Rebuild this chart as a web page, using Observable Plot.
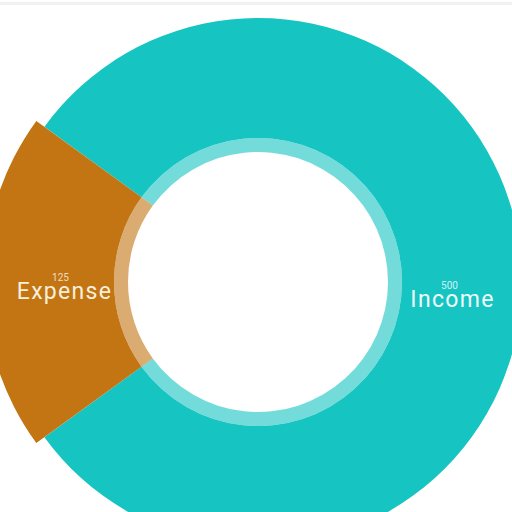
<!DOCTYPE html>
<html>
<head>
<meta charset="utf-8">
<script src="https://cdn.jsdelivr.net/npm/d3@7"></script>
<script src="https://cdn.jsdelivr.net/npm/@observablehq/plot@0.6"></script>
<style>
  html, body { margin: 0; padding: 0; background: #fff; }
  #wrap { position: relative; width: 512px; height: 512px; overflow: hidden; }
  #topline { position: absolute; left: 0; top: 2px; width: 512px; height: 3px; background: #f1f1f1; }
  svg { display: block; font-family: Roboto, sans-serif; }
  .name { letter-spacing: 1.3px; }
</style>
</head>
<body>
<div id="wrap"><div id="topline"></div></div>
<script>
const categories = ["Income", "Expense"];
const values = [500, 125];
const colors = ["#16c4c2", "#c37513"];
const outerRadii = [264, 274];

const innerR = 130;
const ringR = 144;

const pie = d3.pie().sort(null).value(d => d.value)
  .startAngle(-54 * Math.PI / 180).endAngle(306 * Math.PI / 180);
const data = categories.map((c, i) => ({category: c, value: values[i], color: colors[i], outer: outerRadii[i]}));
const arcs = pie(data);
const labelArc = d3.arc().innerRadius(194).outerRadius(194);
arcs.forEach(a => {
  const [cx, cy] = labelArc.centroid(a);
  a.lx = cx; a.ly = cy;
  a.category = a.data.category;
});

function donut(index, scales, values, dims, context) {
  const cx = scales.x(0), cy = scales.y(0);
  const g = d3.create("svg:g").attr("transform", `translate(${cx},${cy})`);
  const main = d3.arc().innerRadius(ringR).outerRadius(d => d.data.outer);
  const ring = d3.arc().innerRadius(innerR).outerRadius(ringR);
  g.selectAll("path.main").data(arcs).join("path")
    .attr("d", main).attr("fill", d => d.data.color);
  g.selectAll("path.ring").data(arcs).join("path")
    .attr("d", ring).attr("fill", d => d.data.color).attr("fill-opacity", 0.6);
  return g.node();
}

const expense = arcs.filter(a => a.category === "Expense");
const income = arcs.filter(a => a.category === "Income");

const plot = Plot.plot({
  width: 512,
  height: 512,
  margin: 0,
  x: {domain: [-258, 254], range: [0, 512], axis: null},
  y: {domain: [-282, 230], range: [0, 512], axis: null},
  style: {background: "transparent", fontFamily: "Roboto, sans-serif"},
  marks: [
    donut,
    Plot.text(expense, {x: "lx", y: "ly", text: d => String(d.value), fontSize: 10, fill: "#f1dcc0", dy: -5, dx: -4}),
    Plot.text(expense, {x: "lx", y: "ly", text: "category", fontSize: 23, fill: "#f8f0dc", dy: 9, className: "name"}),
    Plot.text(income, {x: "lx", y: "ly", text: d => String(d.value), fontSize: 10, fill: "#d2f3f2", dy: 3, dx: -3}),
    Plot.text(income, {x: "lx", y: "ly", text: "category", fontSize: 23, fill: "#eefbfb", dy: 17, className: "name"})
  ]
});
document.getElementById("wrap").appendChild(plot);
</script>
</body>
</html>
